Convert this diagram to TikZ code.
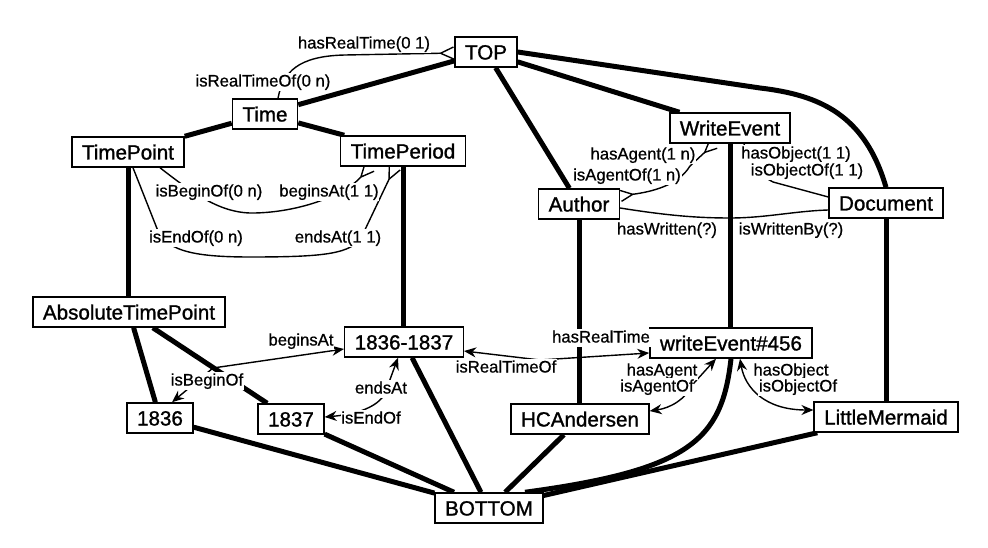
\documentclass[tikz,border=0pt]{standalone}
\usepackage{fontspec}
\setmainfont{Liberation Sans}
\newfontfamily\boxfont[FakeBold=1.2]{Liberation Sans}
\newfontfamily\labfont[FakeBold=0.7]{Liberation Sans}
\usetikzlibrary{arrows.meta,calc}
\pgfdeclarelayer{bg}
\pgfsetlayers{bg,main}
\begin{document}
\begin{tikzpicture}[x=1pt,y=-1pt,
  box/.style={draw,line width=1.5pt,fill=white,font=\boxfont\fontsize{20.6}{24}\selectfont,inner xsep=10pt,inner ysep=0pt,minimum height=30pt,text height=15pt,text depth=0pt},
  lab/.style={fill=white,inner xsep=0.8pt,inner ysep=1.2pt,font=\labfont\fontsize{16.7}{19}\selectfont,text height=12.5pt,text depth=3.5pt},
  isa/.style={line width=5pt},
  rel/.style={line width=1.4pt},
  crowend/.style={-{Straight Barb[reversed,length=13pt,width=12pt]}},
  crowboth/.style={{Straight Barb[reversed,length=12pt,width=11pt]}-{Straight Barb[reversed,length=12pt,width=11pt]}},
  arr/.style={{Stealth[length=12pt,width=10pt]}-{Stealth[length=12pt,width=10pt]}}
]
\useasboundingbox (0,0) rectangle (988,548);

% concept and instance boxes
\node[box] (TOP) at (486,52) {TOP};
\node[box] (Time) at (265,114) {Time};
\node[box] (TimePoint) at (128,152) {TimePoint};
\node[box] (TimePeriod) at (403,151) {TimePeriod};
\node[box] (WriteEvent) at (730,128) {WriteEvent};
\node[box] (Author) at (579,204) {Author};
\node[box] (Document) at (886,203) {Document};
\node[box] (ATP) at (129,312) {AbsoluteTimePoint};
\node[box] (P3637) at (404,342) {1836-1837};
\node[box] (WE456) at (731,343) {writeEvent\#456};
\node[box] (N1836) at (160,418) {1836};
\node[box] (N1837) at (291,419) {1837};
\node[box] (HCA) at (580,419) {HCAndersen};
\node[box] (LM) at (886,417) {LittleMermaid};
\node[box] (BOTTOM) at (489,508) {BOTTOM};

% relation labels
\node[lab] (l1) at (364,44) {hasRealTime(0 1)};
\node[lab] (l2) at (263,82) {isRealTimeOf(0 n)};
\node[lab] (l3) at (209,192) {isBeginOf(0 n)};
\node[lab] (l4) at (329,192) {beginsAt(1 1)};
\node[lab] (l5) at (196,238) {isEndOf(0 n)};
\node[lab] (l6) at (338,238) {endsAt(1 1)};
\node[lab] (l7) at (643,155) {hasAgent(1 n)};
\node[lab] (l8) at (627,176) {isAgentOf(1 n)};
\node[lab] (l9) at (796,154) {hasObject(1 1)};
\node[lab] (l10) at (807,171) {isObjectOf(1 1)};
\node[lab] (l11) at (667,230) {hasWritten(?)};
\node[lab] (l12) at (791,230) {isWrittenBy(?)};
\node[lab] (l13) at (301,341) {beginsAt};
\node[lab] (l14) at (207,381) {isBeginOf};
\node[lab] (l15) at (381,389) {endsAt};
\node[lab] (l16) at (371,419) {isEndOf};
\node[lab] (l17) at (601,338) {hasRealTime};
\node[lab] (l18) at (506,368) {isRealTimeOf};
\node[lab] (l19) at (662,371) {hasAgent};
\node[lab] (l20) at (657,387) {isAgentOf};
\node[lab] (l21) at (791,371) {hasObject};
\node[lab] (l22) at (798,387) {isObjectOf};

\begin{pgfonlayer}{bg}
\fill[white] (0,0) rectangle (988,548);
% lattice (thick) lines
\draw[isa] (TOP) -- (Time);
\draw[isa] (TOP) -- (Author);
\draw[isa] (TOP) -- (WriteEvent);
\draw[isa] (TOP.east) -- (760,88) .. controls (820,95) and (865,115) .. (Document.north);
\draw[isa] (Time) -- (TimePoint);
\draw[isa] (Time) -- (TimePeriod);
\draw[isa] (TimePoint) -- (TimePoint |- ATP.north);
\draw[isa] (TimePeriod) -- (TimePeriod |- P3637.north);
\draw[isa] (Author) -- (Author |- HCA.north);
\draw[isa] (WriteEvent) -- (WriteEvent |- WE456.north);
\draw[isa] (Document) -- (Document |- LM.north);
\draw[isa] (ATP) -- (N1836);
\draw[isa] (ATP) -- (N1837);
\draw[isa] (N1836) -- (BOTTOM);
\draw[isa] (N1837) -- (BOTTOM);
\draw[isa] (P3637) -- (BOTTOM);
\draw[isa] (HCA) -- (BOTTOM);
\draw[isa] (LM) -- (BOTTOM);
\draw[isa] (WE456.south) .. controls (722,440) and (690,470) .. ($(BOTTOM.north)+(36,0)$);

% schema relations
\draw[rel,crowend] ($(Time.north)+(13,0)$) .. controls (283,72) and (298,56) .. (345,55) -- ($(TOP.west)+(0,1)$);
\draw[rel,crowend] ($(TimePoint.south)+(32,0)$) .. controls (195,195) and (222,214) .. (255,213) .. controls (300,212) and (345,195) .. ($(TimePeriod.south)+(-33,0)$);
\draw[rel,crowend] ($(TimePoint.south)+(5,0)$) -- (156,226) .. controls (164,250) and (190,257) .. (250,257) .. controls (325,257) and (352,254) .. (362,236) -- ($(TimePeriod.south)+(-8,0)$);
\draw[rel,crowboth] ($(Author.east)+(0,-8)$) .. controls (650,192) and (678,186) .. (690,166) -- ($(WriteEvent.south)+(-16,0)$);
\draw[rel] ($(Document.west)+(0,-6)$) -- (773,182) .. controls (760,176) and (748,160) .. ($(WriteEvent.south)+(14,0)$);
\draw[rel] ($(Author.east)+(0,4)$) .. controls (670,216) and (700,218) .. (730,218) .. controls (765,218) and (795,211) .. ($(Document.west)+(0,7)$);

% instance relations
\draw[rel,arr] ($(N1836.north)+(12,0)$) -- (213,368) -- ($(P3637.west)+(0,7)$);
\draw[rel,arr] ($(N1837.east)+(0,-2)$) .. controls (360,414) and (385,405) .. (388,385) -- ($(P3637.south)+(-6,0)$);
\draw[rel,arr] ($(P3637.east)+(0,9)$) -- (540,360) -- ($(WE456.west)+(0,10)$);
\draw[rel,arr] ($(WE456.south)+(-15,0)$) -- (694,383) .. controls (685,400) and (670,408) .. ($(HCA.east)+(0,-8)$);
\draw[rel,arr] ($(WE456.south)+(9,0)$) .. controls (745,388) and (765,410) .. ($(LM.west)+(0,-7)$);
\end{pgfonlayer}
\end{tikzpicture}
\end{document}
